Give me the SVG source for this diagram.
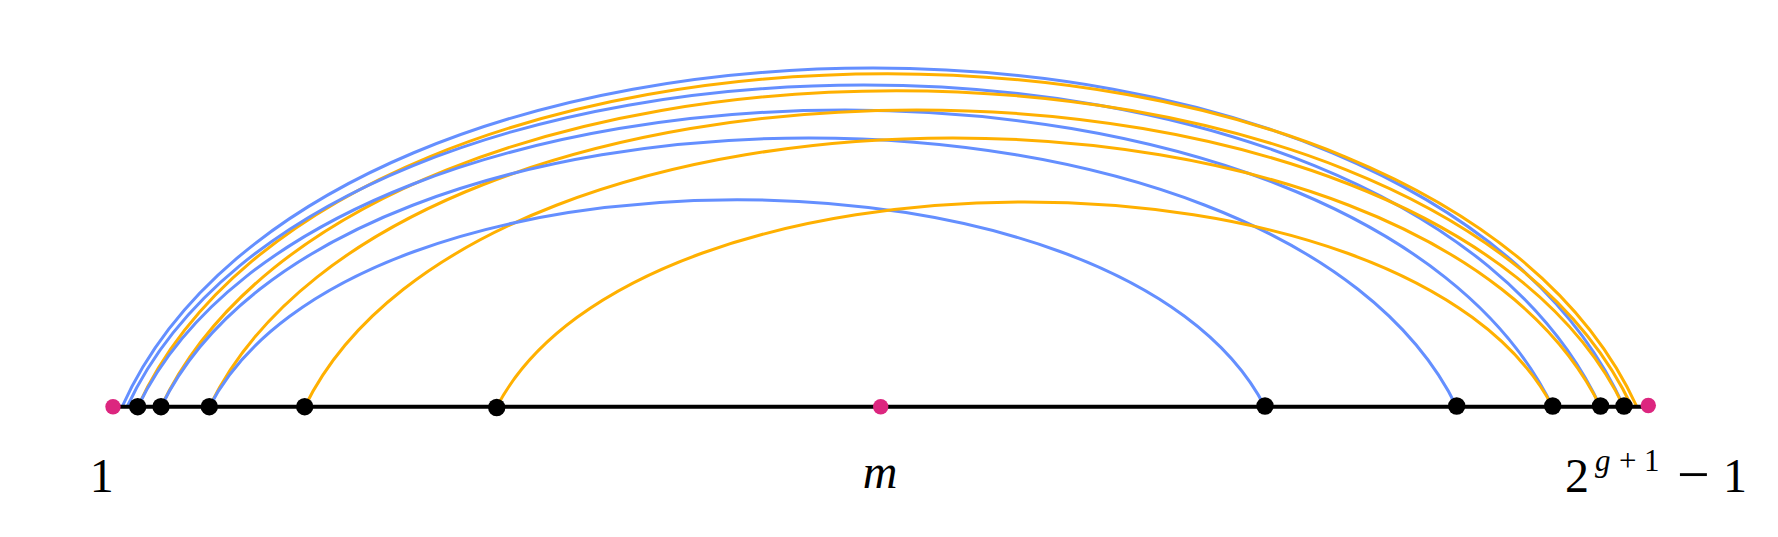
<svg xmlns="http://www.w3.org/2000/svg" width="1778" height="537" viewBox="0 0 1778 537">
<style>
.bg{fill:#ffffff}
.blue{fill:none;stroke:#648FFF;stroke-width:3}
.orange{fill:none;stroke:#FFB000;stroke-width:3}
.axis{stroke:#000;stroke-width:4;fill:none}
.bdot{fill:#000}
.pdot{fill:#DC267F}
.lbl{font-family:"Liberation Serif","DejaVu Serif",serif;font-size:48px;fill:#000}
.it{font-style:italic}
</style>
<rect class="bg" x="0" y="0" width="1778" height="537"/>
<g id="connectors">
<path class="blue" d="M122 407 C324.8 -45 1421.2 -45 1624 407"/>
<path class="orange" d="M137.7 407 C340.1 -37.4 1434.6 -37.4 1637 407"/>
<path class="blue" d="M127 407 C325.9 -22.3 1401.6 -22.3 1600.5 407"/>
<path class="orange" d="M161 407 C359.6 -14.7 1433.4 -14.7 1632 407"/>
<path class="blue" d="M137.7 407 C328.7 11 1361.7 11 1552.7 407"/>
<path class="orange" d="M209.3 407 C400.3 11 1433 11 1624 407"/>
<path class="blue" d="M161 407 C335.9 48.3 1281.8 48.3 1456.7 407"/>
<path class="orange" d="M304.7 407 C479.6 48.3 1425.6 48.3 1600.5 407"/>
<path class="blue" d="M209.3 407 C351.8 130.5 1122.5 130.5 1265 407"/>
<path class="orange" d="M496.7 407 C639.3 133.7 1410.1 133.7 1552.7 407"/>
</g>
<g id="axis"><line class="axis" x1="113" y1="406.7" x2="1648.3" y2="406.7"/></g>
<g id="node-1"><circle class="pdot" cx="113" cy="406.7" r="7.7"/></g>
<g id="node-a1"><circle class="bdot" cx="137.7" cy="406.7" r="8.7"/></g>
<g id="node-a2"><circle class="bdot" cx="161" cy="406.7" r="8.7"/></g>
<g id="node-a3"><circle class="bdot" cx="209.3" cy="406.7" r="8.7"/></g>
<g id="node-a4"><circle class="bdot" cx="304.7" cy="406.7" r="8.7"/></g>
<g id="node-a5"><circle class="bdot" cx="496.7" cy="407.5" r="8.7"/></g>
<g id="node-m"><circle class="pdot" cx="880.7" cy="406.7" r="7.7"/></g>
<g id="node-b1"><circle class="bdot" cx="1265" cy="406" r="8.7"/></g>
<g id="node-b2"><circle class="bdot" cx="1456.7" cy="406" r="8.7"/></g>
<g id="node-b3"><circle class="bdot" cx="1552.7" cy="406" r="8.7"/></g>
<g id="node-b4"><circle class="bdot" cx="1600.5" cy="406" r="8.7"/></g>
<g id="node-b5"><circle class="bdot" cx="1624" cy="406" r="8.7"/></g>
<g id="node-end"><circle class="pdot" cx="1648.3" cy="405.5" r="7.7"/></g>
<g id="labels">
<text class="lbl" x="101.7" y="492" text-anchor="middle">1</text>
<text class="lbl it" x="880" y="488" text-anchor="middle" font-size="52">m</text>
<text class="lbl" y="492"><tspan x="1565">2</tspan><tspan x="1595" y="471" font-size="31" class="it">g</tspan><tspan x="1619" y="471" font-size="31">+</tspan><tspan x="1644" y="471" font-size="31">1</tspan><tspan x="1677" y="494" font-size="58">−</tspan><tspan x="1723" y="492">1</tspan></text>
</g>
</svg>
